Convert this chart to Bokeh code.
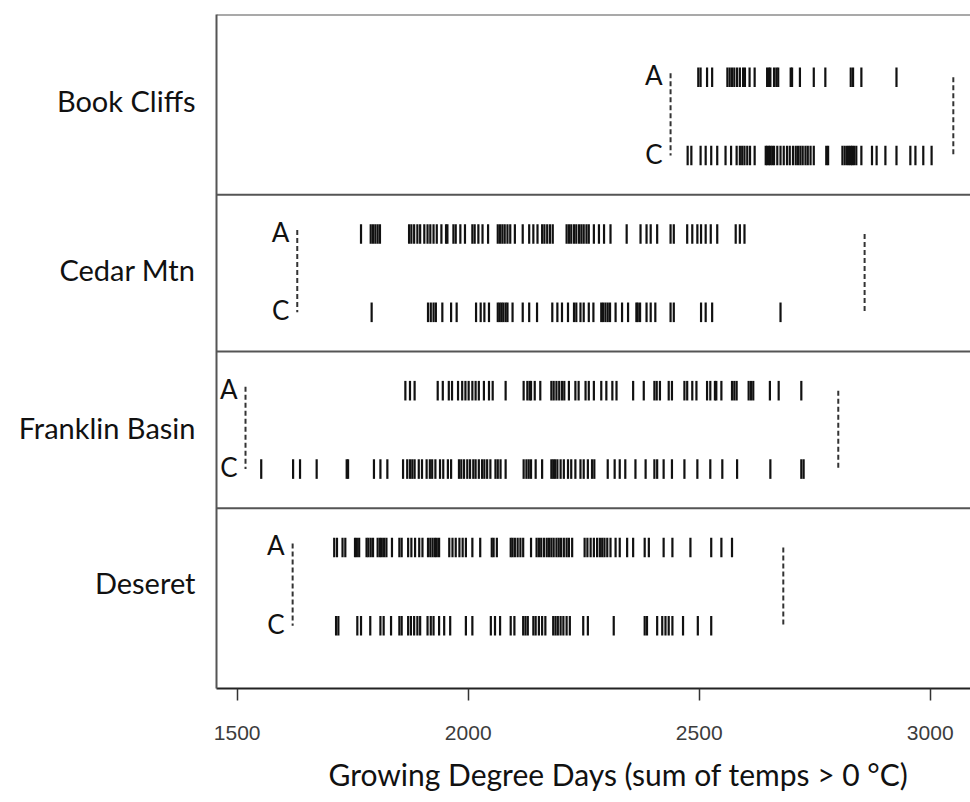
from bokeh.plotting import figure
from bokeh.models import Range1d, Span, Label, FixedTicker, Title
from bokeh.embed import file_html
from bokeh.resources import INLINE

sites = ["Book Cliffs", "Cedar Mtn", "Franklin Basin", "Deseret"]
groups = ["A", "C"]

book_A = [2498, 2503, 2517, 2528, 2561, 2566, 2571, 2576, 2582, 2588, 2595, 2599, 2609, 2620,
          2647, 2651, 2654, 2662, 2667, 2671, 2698, 2701, 2718, 2748, 2773, 2828, 2833, 2851, 2927]
book_C = [2475, 2483, 2503, 2514, 2526, 2539, 2557, 2569, 2581, 2588, 2593, 2598, 2604, 2610, 2620,
          2644, 2647, 2651, 2654, 2658, 2662, 2669, 2676, 2683, 2690, 2696, 2703, 2709, 2714, 2719,
          2724, 2730, 2735, 2741, 2748, 2775, 2779, 2810, 2815, 2820, 2824, 2828, 2831, 2835, 2840,
          2851, 2874, 2884, 2903, 2927, 2957, 2968, 2985, 3003]
cedar_A = [1768, 1789, 1794, 1799, 1804, 1809, 1872, 1877, 1883, 1890, 1896, 1905, 1912, 1918,
           1925, 1932, 1942, 1952, 1955, 1968, 1973, 1983, 1993, 2009, 2014, 2022, 2031, 2043,
           2064, 2069, 2074, 2079, 2085, 2091, 2101, 2118, 2132, 2141, 2150, 2160, 2165, 2171,
           2177, 2183, 2213, 2218, 2223, 2229, 2234, 2240, 2245, 2250, 2256, 2261, 2272, 2283,
           2294, 2308, 2343, 2373, 2386, 2395, 2409, 2438, 2445, 2474, 2485, 2496, 2504, 2514,
           2525, 2539, 2579, 2588, 2598]
cedar_C = [1791, 1913, 1919, 1925, 1930, 1944, 1963, 1975, 2017, 2027, 2035, 2045, 2064, 2068,
           2072, 2076, 2081, 2085, 2096, 2118, 2132, 2149, 2182, 2193, 2203, 2216, 2229, 2234,
           2243, 2250, 2261, 2271, 2288, 2292, 2297, 2302, 2307, 2319, 2333, 2346, 2364, 2367,
           2372, 2386, 2395, 2405, 2438, 2445, 2504, 2514, 2528, 2676]
franklin_A = [1864, 1874, 1884, 1934, 1945, 1958, 1965, 1978, 1987, 1994, 2001, 2009, 2016, 2023,
              2034, 2045, 2053, 2081, 2120, 2128, 2133, 2136, 2144, 2156, 2180, 2185, 2191, 2197,
              2203, 2208, 2218, 2232, 2239, 2254, 2261, 2272, 2288, 2299, 2312, 2321, 2357, 2380,
              2403, 2408, 2415, 2434, 2441, 2468, 2474, 2485, 2494, 2517, 2524, 2534, 2537, 2548,
              2571, 2576, 2581, 2607, 2612, 2617, 2653, 2672, 2721]
franklin_C = [1552, 1621, 1636, 1672, 1737, 1740, 1796, 1810, 1825, 1859, 1868, 1874, 1879, 1884,
              1893, 1900, 1910, 1917, 1922, 1929, 1939, 1946, 1956, 1963, 1980, 1985, 1991, 1998,
              2004, 2011, 2016, 2023, 2030, 2035, 2041, 2048, 2059, 2064, 2070, 2081, 2120, 2126,
              2131, 2136, 2146, 2160, 2180, 2184, 2188, 2193, 2200, 2207, 2216, 2223, 2232, 2243,
              2250, 2259, 2268, 2273, 2302, 2317, 2328, 2340, 2362, 2384, 2403, 2409, 2423, 2441,
              2468, 2496, 2524, 2550, 2582, 2654, 2721, 2726]
deseret_A = [1710, 1716, 1728, 1734, 1755, 1759, 1764, 1780, 1784, 1789, 1794, 1804, 1809, 1813,
             1818, 1823, 1835, 1851, 1856, 1870, 1877, 1885, 1894, 1901, 1913, 1918, 1923, 1928,
             1932, 1937, 1959, 1966, 1973, 1981, 1988, 1995, 2009, 2026, 2051, 2055, 2062, 2092,
             2096, 2101, 2107, 2113, 2119, 2136, 2148, 2153, 2158, 2164, 2170, 2175, 2180, 2185,
             2191, 2196, 2201, 2207, 2213, 2218, 2225, 2252, 2258, 2265, 2272, 2279, 2285, 2290,
             2295, 2301, 2308, 2319, 2328, 2344, 2357, 2382, 2391, 2423, 2442, 2481, 2526, 2548, 2571]
deseret_C = [1714, 1719, 1760, 1768, 1788, 1810, 1817, 1833, 1851, 1856, 1870, 1876, 1883, 1890,
             1896, 1912, 1919, 1925, 1937, 1948, 1961, 1995, 2009, 2049, 2058, 2069, 2092, 2100,
             2119, 2124, 2129, 2141, 2146, 2153, 2160, 2167, 2184, 2189, 2194, 2200, 2206, 2213,
             2220, 2249, 2259, 2315, 2382, 2387, 2409, 2420, 2427, 2434, 2442, 2465, 2497, 2526]

range_lo = [2438, 1630, 1518, 1620]
range_hi = [3050, 2858, 2801, 2682]

series = [(book_A, book_C), (cedar_A, cedar_C), (franklin_A, franklin_C), (deseret_A, deseret_C)]
xticks = [1500, 2000, 2500, 3000]
x_title = "Growing Degree Days (sum of temps > 0 \u00b0C)"

FONT = "Lato"
label_y = [0.3, 2.46, 4.47, 6.45]

p = figure(width=970, height=802, output_backend="svg", toolbar_location=None,
           x_range=Range1d(1455.2, 3087.2), y_range=Range1d(7.8, -0.8),
           min_border_left=216, min_border_right=0, min_border_top=14, min_border_bottom=113)
p.outline_line_color = None
p.grid.visible = False
p.background_fill_color = "white"
p.border_fill_color = "white"

ax = p.xaxis[0]
ax.ticker = FixedTicker(ticks=xticks)
ax.axis_line_color = "#222222"
ax.axis_line_width = 2
ax.major_tick_line_color = "#333333"
ax.major_tick_line_width = 1.5
ax.major_tick_out = 12
ax.major_tick_in = 0
ax.minor_tick_line_color = None
ax.major_label_text_font = "Liberation Sans"
ax.major_label_text_font_size = "21px"
ax.major_label_text_color = "#3c3c3c"
ax.major_label_standoff = 25

yax = p.yaxis[0]
yax.ticker = FixedTicker(ticks=label_y)
yax.major_label_overrides = {v: n for v, n in zip(label_y, sites)}
yax.axis_line_color = "#555555"
yax.axis_line_width = 2
yax.major_tick_line_color = None
yax.minor_tick_line_color = None
yax.major_tick_out = 0
yax.major_tick_in = 0
yax.major_label_standoff = 21
yax.major_label_text_font = FONT
yax.major_label_text_font_size = "29px"
yax.major_label_text_color = "#111111"

p.add_layout(Title(text=x_title, align="left", offset=112, text_font=FONT,
                   text_font_size="30px", text_font_style="normal", text_color="#111111",
                   standoff=22), "below")

# frame lines
p.add_layout(Span(location=-0.8, dimension="width", line_color="#555555", line_width=2))
for s in [1.5, 3.5, 5.5]:
    p.add_layout(Span(location=s, dimension="width", line_color="#555555", line_width=1.8))

half = 0.125
for i, (a_vals, c_vals) in enumerate(series):
    ya = 2 * i
    yc = 2 * i + 1
    for vals, yy in ((a_vals, ya), (c_vals, yc)):
        p.segment(x0=vals, x1=vals, y0=[yy - half] * len(vals), y1=[yy + half] * len(vals),
                  line_color="#111111", line_width=2.2)
    for xv, y0 in ((range_lo[i], ya - 0.05), (range_hi[i], ya)):
        p.segment(x0=[xv], x1=[xv], y0=[y0], y1=[yc], line_color="#333333",
                  line_width=2, line_dash="5 3")
    for g, yy in zip(groups, (ya, yc)):
        p.add_layout(Label(x=range_lo[i], y=yy, text=g, x_offset=-8, y_offset=2,
                           text_align="right", text_baseline="middle",
                           text_font=FONT, text_font_size="26px", text_color="#111111"))

open("out.html", "w").write(file_html(p, INLINE))
